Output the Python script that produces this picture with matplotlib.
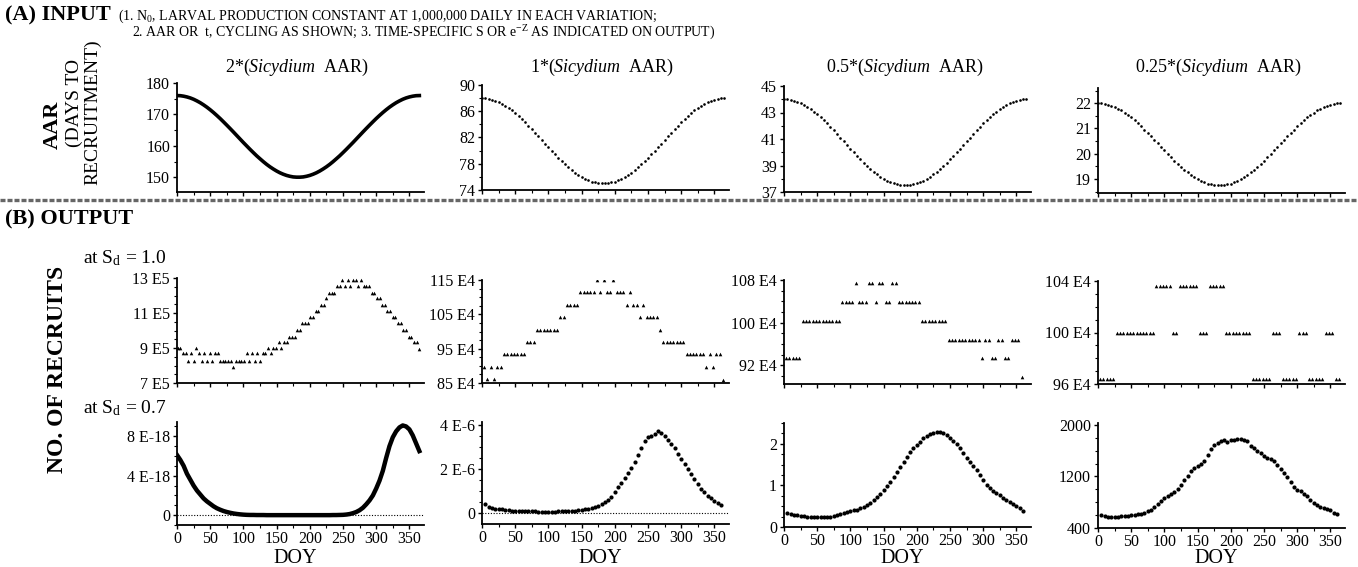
import numpy as np
import matplotlib
matplotlib.use("Agg")
import matplotlib.pyplot as plt
from matplotlib.lines import Line2D
from matplotlib.ticker import AutoMinorLocator, MultipleLocator, FixedLocator

plt.rcParams['font.family'] = ['Liberation Serif', 'DejaVu Serif']
plt.rcParams['mathtext.fontset'] = 'custom'
plt.rcParams['mathtext.rm'] = 'Liberation Serif'
plt.rcParams['mathtext.it'] = 'Liberation Serif:italic'
plt.rcParams['mathtext.bf'] = 'Liberation Serif:bold'

# ---------------- DATA ----------------
aar_factors = [2, 1, 0.5, 0.25]
aar_titles = ["2*($\\mathit{Sicydium}$  AAR)", "1*($\\mathit{Sicydium}$  AAR)",
              "0.5*($\\mathit{Sicydium}$  AAR)", "0.25*($\\mathit{Sicydium}$  AAR)"]
aar_doy = np.arange(0, 366, 5)
sicydium_aar = [88.00, 87.98, 87.90, 87.78, 87.62, 87.41, 87.15, 86.86, 86.52, 86.15,
                85.74, 85.30, 84.83, 84.34, 83.82, 83.29, 82.75, 82.20, 81.64, 81.08,
                80.52, 79.98, 79.44, 78.92, 78.41, 77.94, 77.48, 77.05, 76.66, 76.31,
                75.99, 75.71, 75.48, 75.29, 75.15, 75.05, 75.01, 75.01, 75.05, 75.15,
                75.29, 75.48, 75.71, 75.99, 76.31, 76.66, 77.05, 77.48, 77.94, 78.41,
                78.92, 79.44, 79.98, 80.52, 81.08, 81.64, 82.20, 82.75, 83.29, 83.82,
                84.34, 84.83, 85.30, 85.74, 86.15, 86.52, 86.86, 87.15, 87.41, 87.62,
                87.78, 87.90, 87.98, 88.00]
aar_yticks = [[150, 160, 170, 180], [74, 78, 82, 86, 90], [37, 39, 41, 43, 45], [19, 20, 21, 22]]
aar_ylims = [(145.3, 180), (74, 90), (37, 45), (18.45, 22.6)]

# Output at Sd = 1.0 (units: E5 for panel 1, E4 for others)
s1_doy_a = np.arange(1, 366, 4)
s1_rec_a = [9.0, 9.0, 8.7, 8.7, 8.28, 8.7, 8.28, 9.0, 8.7, 8.28,
            8.7, 8.28, 8.7, 8.28, 8.7, 8.7, 8.28, 8.28, 8.28, 8.28,
            8.28, 7.9, 8.28, 8.28, 8.28, 8.28, 8.7, 8.28, 8.7, 8.28,
            8.7, 8.28, 8.7, 8.7, 9.0, 8.7, 9.0, 9.0, 9.36, 9.0,
            9.36, 9.36, 9.65, 9.65, 9.65, 10.05, 10.05, 10.45, 10.45, 10.45,
            10.75, 10.75, 11.13, 11.13, 11.46, 11.46, 11.84, 12.16, 12.16, 12.16,
            12.54, 12.54, 12.89, 12.54, 12.89, 12.54, 12.89, 12.89, 12.54, 12.89,
            12.54, 12.54, 12.54, 12.16, 12.16, 11.84, 11.84, 11.46, 11.46, 11.13,
            11.13, 10.75, 10.75, 10.45, 10.45, 10.05, 10.05, 9.65, 9.65, 9.36,
            9.36, 8.92]
s1_doy_b = np.arange(3, 366, 5)
s1_rec_b = [89.7, 86.1, 89.7, 86.1, 89.7, 89.7, 93.4, 93.4, 93.4, 93.4,
            93.4, 93.4, 93.4, 97.0, 97.0, 97.0, 100.4, 100.4, 100.4, 100.4,
            100.4, 100.4, 100.4, 104.1, 104.1, 107.7, 107.7, 107.7, 107.7, 111.6,
            111.6, 111.6, 111.6, 111.6, 115.0, 111.6, 115.0, 111.6, 111.6, 115.0,
            111.6, 111.6, 111.6, 107.7, 111.6, 107.7, 107.7, 104.1, 107.7, 104.1,
            104.1, 104.1, 104.1, 100.4, 97.0, 97.0, 97.0, 97.0, 97.0, 97.0,
            97.0, 93.4, 93.4, 93.4, 93.4, 93.4, 93.4, 89.7, 93.4, 89.7,
            93.4, 93.4, 85.8]
s1_doy_c = np.arange(3, 361, 5)
s1_rec_c = [93.4, 93.4, 93.4, 93.4, 93.4, 100.35, 100.35, 100.35, 100.35, 100.35,
            100.35, 100.35, 100.35, 100.35, 100.35, 100.35, 100.35, 103.9, 103.9, 103.9,
            103.9, 107.4, 103.9, 103.9, 103.9, 107.4, 107.4, 103.9, 107.4, 107.4,
            103.9, 103.9, 107.4, 107.4, 103.9, 103.9, 103.9, 103.9, 103.9, 103.9,
            103.9, 100.35, 100.35, 100.35, 100.35, 100.35, 100.35, 100.35, 100.35, 96.8,
            96.8, 96.8, 96.8, 96.8, 96.8, 96.8, 96.8, 96.8, 96.8, 93.4,
            96.8, 96.8, 93.4, 93.4, 96.8, 96.8, 93.4, 93.4, 96.8, 96.8,
            96.8, 89.8]
s1_doy_d = np.arange(3, 366, 5)
s1_rec_d = [96.4, 96.4, 96.4, 96.4, 96.4, 100.0, 100.0, 100.0, 100.0, 100.0,
            100.0, 100.0, 100.0, 100.0, 100.0, 100.0, 100.0, 103.6, 103.6, 103.6,
            103.6, 103.6, 100.0, 100.0, 103.6, 103.6, 103.6, 103.6, 103.6, 103.6,
            100.0, 100.0, 100.0, 103.6, 103.6, 103.6, 103.6, 103.6, 100.0, 100.0,
            100.0, 100.0, 100.0, 100.0, 100.0, 100.0, 96.4, 96.4, 96.4, 96.4,
            96.4, 96.4, 100.0, 100.0, 100.0, 96.4, 96.4, 96.4, 96.4, 96.4,
            100.0, 100.0, 100.0, 96.4, 96.4, 96.4, 96.4, 96.4, 100.0, 100.0,
            100.0, 96.4, 96.4]
s1_yticks = [[7, 9, 11, 13], [85, 95, 105, 115], [92, 100, 108], [96, 100, 104]]
s1_unit = ["E5", "E4", "E4", "E4"]
s1_ylims = [(7, 13), (85, 115), (88.5, 108), (96, 104)]

# Output at Sd = 0.7 (units: E-18, E-6, 1, 1)
s07_doy_a = np.arange(0, 366, 5)
s07_rec_a = [6.1, 5.6, 5.0, 4.2, 3.6, 3.0, 2.5, 2.1, 1.7, 1.4,
             1.15, 0.9, 0.7, 0.55, 0.42, 0.32, 0.24, 0.17, 0.12, 0.08,
             0.05, 0.03, 0.02, 0.02, 0.01, 0.01, 0.01, 0.0, 0.0, 0.0,
             0.0, 0.0, 0.0, 0.0, 0.0, 0.0, 0.0, 0.0, 0.0, 0.0,
             0.0, 0.0, 0.0, 0.0, 0.0, 0.0, 0.0, 0.01, 0.01, 0.02,
             0.03, 0.06, 0.11, 0.2, 0.32, 0.5, 0.75, 1.1, 1.5, 2.0,
             2.7, 3.5, 4.5, 5.8, 7.0, 7.9, 8.5, 8.9, 9.1, 9.0,
             8.7, 8.1, 7.3, 6.5]
s07_doy_b = np.arange(5, 361, 5)
s07_rec_b = [0.42, 0.3, 0.25, 0.22, 0.2, 0.18, 0.16, 0.15, 0.13, 0.12,
             0.11, 0.1, 0.1, 0.09, 0.09, 0.09, 0.08, 0.08, 0.08, 0.08,
             0.08, 0.08, 0.09, 0.09, 0.1, 0.1, 0.11, 0.12, 0.14, 0.16,
             0.19, 0.22, 0.26, 0.3, 0.35, 0.42, 0.5, 0.6, 0.75, 0.95,
             1.18, 1.4, 1.63, 1.85, 2.08, 2.35, 2.65, 2.95, 3.3, 3.45,
             3.52, 3.62, 3.75, 3.65, 3.5, 3.35, 3.15, 2.98, 2.72, 2.47,
             2.25, 2.02, 1.78, 1.55, 1.33, 1.12, 0.95, 0.8, 0.68, 0.57,
             0.47, 0.38]
s07_doy_c = np.arange(5, 361, 5)
s07_rec_c = [0.33, 0.31, 0.29, 0.28, 0.27, 0.26, 0.25, 0.25, 0.24, 0.24,
             0.24, 0.24, 0.24, 0.25, 0.27, 0.29, 0.32, 0.34, 0.36, 0.38,
             0.40, 0.42, 0.45, 0.49, 0.53, 0.58, 0.64, 0.71, 0.79, 0.88,
             0.99, 1.09, 1.2, 1.32, 1.44, 1.56, 1.69, 1.8, 1.89, 1.97,
             2.05, 2.13, 2.19, 2.24, 2.27, 2.29, 2.29, 2.26, 2.21, 2.14,
             2.07, 1.99, 1.91, 1.79, 1.67, 1.56, 1.46, 1.36, 1.26, 1.13,
             1.0, 0.93, 0.87, 0.82, 0.76, 0.7, 0.65, 0.6, 0.55, 0.5,
             0.45, 0.38]
s07_doy_d = np.arange(5, 361, 5)
s07_rec_d = [606, 590, 578, 572, 572, 576, 580, 585, 590, 595,
             602, 612, 625, 640, 660, 683, 730, 775, 820, 860,
             900, 935, 960, 1000, 1075, 1150, 1210, 1280, 1330, 1360,
             1390, 1440, 1540, 1625, 1690, 1725, 1755, 1760, 1742, 1760,
             1768, 1775, 1776, 1770, 1745, 1680, 1640, 1600, 1560, 1520,
             1490, 1465, 1445, 1380, 1310, 1250, 1185, 1110, 1030, 995,
             970, 935, 890, 840, 790, 750, 725, 705, 695, 683,
             640, 610]
s07_yticks = [[0, 4, 8], [0, 2, 4], [0, 1, 2], [400, 1200, 2000]]
s07_yticklabels = [["0", "4 E-18", "8 E-18"], ["0", "2 E-6", "4 E-6"], ["0", "1", "2"],
                   ["400", "1200", "2000"]]
s07_ylims = [(-1.0, 9.45), (-0.48, 4.15), (0, 2.5), (400, 2030)]

doy_ticks = [0, 50, 100, 150, 200, 250, 300, 350]

# ---------------- LAYOUT ----------------
W, H = 1358, 567
fig = plt.figure(figsize=(W / 100, H / 100), dpi=100)
fig.patch.set_facecolor('white')

col_x = [177, 482, 784, 1098]
col_w = 247
row1_tb = [(83, 192), (85, 190), (86, 192), (88, 193)]
row2_tb = [(278, 383), (280, 383), (280, 384), (281, 384)]
row3_tb = [(422, 525), (422, 524), (423, 527), (423, 528)]


def px(x, y):
    return x / W, 1 - y / H


def make_ax(x0, tb):
    top, bot = tb
    ax = fig.add_axes([x0 / W, 1 - bot / H, col_w / W, (bot - top) / H])
    for s in ['top', 'right']:
        ax.spines[s].set_visible(False)
    for s in ['left', 'bottom']:
        ax.spines[s].set_linewidth(1.3)
    ax.set_xlim(0, 372)
    ax.xaxis.set_major_locator(FixedLocator(doy_ticks))
    ax.xaxis.set_minor_locator(MultipleLocator(25))
    ax.yaxis.set_minor_locator(AutoMinorLocator(4))
    ax.tick_params(which='major', direction='out', length=3, width=1, pad=2,
                   labelsize=11.5)
    ax.tick_params(which='minor', direction='out', length=2, width=0.8)
    return ax


# Row 1: AAR
for i in range(4):
    ax = make_ax(col_x[i], row1_tb[i])
    vals = np.array(sicydium_aar) * aar_factors[i]
    if i == 0:
        ax.plot(aar_doy, vals, color='black', lw=2.6)
    else:
        ax.plot(aar_doy, vals, 'o', color='black', ms=1.9, mew=0)
    ax.set_ylim(*aar_ylims[i])
    ax.set_yticks(aar_yticks[i])
    ax.set_yticklabels([str(v) for v in aar_yticks[i]])
    ax.tick_params(axis='x', labelbottom=False)
    ax.yaxis.set_minor_locator(AutoMinorLocator(2))
    cx = col_x[i] + col_w / 2 - 3
    fig.text(*px(cx, 67), aar_titles[i], ha='center', va='center', fontsize=13)

# Row 2: Sd = 1.0
s1_doys = [s1_doy_a, s1_doy_b, s1_doy_c, s1_doy_d]
s1_recs = [s1_rec_a, s1_rec_b, s1_rec_c, s1_rec_d]
for i in range(4):
    ax = make_ax(col_x[i], row2_tb[i])
    ax.plot(s1_doys[i], s1_recs[i], '^', color='black', ms=2.6, mew=0)
    ax.set_ylim(*s1_ylims[i])
    ax.set_yticks(s1_yticks[i])
    ax.set_yticklabels([f"{v} {s1_unit[i]}" for v in s1_yticks[i]])
    ax.tick_params(axis='x', labelbottom=False)

# Row 3: Sd = 0.7
s07_doys = [s07_doy_a, s07_doy_b, s07_doy_c, s07_doy_d]
s07_recs = [s07_rec_a, s07_rec_b, s07_rec_c, s07_rec_d]
for i in range(4):
    ax = make_ax(col_x[i], row3_tb[i])
    if i == 0:
        ax.axhline(0, color='black', lw=0.8, ls=(0, (1, 1.5)))
        ax.plot(s07_doys[i], s07_recs[i], color='black', lw=3.2)
    else:
        if i == 1:
            ax.axhline(0, color='black', lw=0.8, ls=(0, (1, 1.5)))
        ax.plot(s07_doys[i], s07_recs[i], 'o', color='black', ms=3.0, mew=0)
    ax.set_ylim(*s07_ylims[i])
    ax.set_yticks(s07_yticks[i])
    ax.set_yticklabels(s07_yticklabels[i])
    ax.set_xticks(doy_ticks)
    ax.set_xticklabels([str(v) for v in doy_ticks])
    ax.tick_params(axis='x', pad=1)
    fig.text(*px(col_x[i] + col_w / 2 - 5, 549), "DOY", ha='center', va='top',
             fontsize=14.5)

# ---------------- TEXT ----------------
fig.text(*px(5, 15), "(A) INPUT", fontsize=16, fontweight='bold', va='center')
fig.text(*px(118, 16), "(1. N$_\\mathregular{0}$, LARVAL PRODUCTION CONSTANT AT 1,000,000 DAILY IN EACH VARIATION;",
         fontsize=10, va='center')
fig.text(*px(132, 33), "2. AAR OR  t, CYCLING AS SHOWN; 3. TIME-SPECIFIC S OR e$^{\\mathregular{-Z}}$ AS INDICATED ON OUTPUT)",
         fontsize=10, va='center')

fig.text(*px(53, 125), "AAR", rotation=90, fontsize=16, fontweight='bold',
         ha='center', va='center')
fig.text(*px(74, 103), "(DAYS TO", rotation=90, fontsize=14, ha='center', va='center')
fig.text(*px(93, 112), "RECRUITMENT)", rotation=90, fontsize=14, ha='center', va='center')

fig.add_artist(Line2D([0, 1], [1 - 200 / H] * 2, color='#666666', lw=2.4,
                      ls=(0, (1.5, 0.6)), transform=fig.transFigure))

fig.text(*px(5, 219), "(B) OUTPUT", fontsize=16, fontweight='bold', va='center')
fig.text(*px(83, 258), "at S$_\\mathregular{d}$ = 1.0", fontsize=14, va='center')
fig.text(*px(83, 408), "at S$_\\mathregular{d}$ = 0.7", fontsize=14, va='center')
fig.text(*px(58, 369), "NO. OF RECRUITS", rotation=90, fontsize=17, fontweight='bold',
         ha='center', va='center')

fig.savefig("out.png", dpi=100, facecolor='white')
